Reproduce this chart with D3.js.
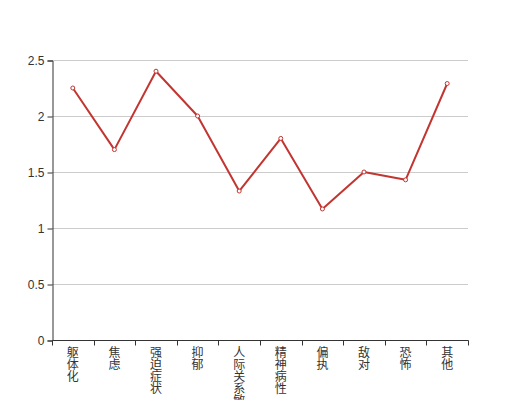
<!DOCTYPE html>
<html><head><meta charset="utf-8">
<script src="https://cdn.jsdelivr.net/npm/d3@7"></script>
<style>html,body{margin:0;padding:0;background:#fff;overflow:hidden}</style>
</head><body>
<svg id="chart" width="520" height="400"></svg>
<script>
const categories = ["躯体化","焦虑","强迫症状","抑郁","人际关系敏感","精神病性","偏执","敌对","恐怖","其他"];
const values = [2.25, 1.7, 2.4, 2.0, 1.33, 1.8, 1.17, 1.5, 1.43, 2.29];
const yTicks = [0, 0.5, 1, 1.5, 2, 2.5];

(function () {
const svg = d3.select("#chart");
const font = "'Noto Sans CJK SC', sans-serif";
const numFont = "'Liberation Sans', Arial, sans-serif";
const mLeft = 52, mRight = 468, mTop = 60, mBottom = 340;

const x = d3.scaleBand().domain(categories).range([mLeft, mRight]);
const y = d3.scaleLinear().domain([0, 2.5]).range([mBottom, mTop]);

// grid
svg.append("g").selectAll("line").data(yTicks.filter(d => d > 0)).join("line")
  .attr("x1", mLeft).attr("x2", mRight)
  .attr("y1", d => Math.round(y(d)) + 0.5).attr("y2", d => Math.round(y(d)) + 0.5)
  .attr("stroke", "#ccc").attr("stroke-width", 1);

// y axis
const ya = svg.append("g").attr("transform", `translate(${mLeft + 0.5},0.5)`)
  .call(d3.axisLeft(y).tickValues(yTicks).tickSize(5).tickPadding(3).tickFormat(d => d));
ya.select(".domain").attr("stroke", "#333");
ya.selectAll(".tick line").attr("stroke", "#333");
ya.selectAll(".tick text").attr("fill", "#333").style("font-size", "12px").style("font-family", numFont);

// x axis
const xa = svg.append("g").attr("transform", `translate(0.5,${mBottom + 0.5})`);
xa.append("line").attr("x1", mLeft).attr("x2", mRight).attr("stroke", "#333");
const bounds = categories.map(c => x(c)).concat([mRight]);
xa.selectAll("line.t").data(bounds).join("line").attr("class", "t")
  .attr("x1", d => Math.round(d)).attr("x2", d => Math.round(d))
  .attr("y1", 0).attr("y2", 5).attr("stroke", "#333");

const labels = svg.append("g");
categories.forEach(c => {
  const t = labels.append("text")
    .attr("x", x(c) + x.bandwidth() / 2)
    .attr("y", mBottom + 6)
    .attr("text-anchor", "middle")
    .attr("fill", "#333")
    .style("font-size", "12px").style("font-family", font);
  Array.from(c).forEach((ch, i) => {
    t.append("tspan").attr("x", x(c) + x.bandwidth() / 2)
      .attr("dy", i === 0 ? "0.9em" : 12).text(ch);
  });
});

// line
const line = d3.line().x((d, i) => x(categories[i]) + x.bandwidth() / 2).y(d => y(d));
svg.append("path").datum(values).attr("d", line)
  .attr("fill", "none").attr("stroke", "#c23531").attr("stroke-width", 2)
  .attr("stroke-linejoin", "bevel");

svg.append("g").selectAll("circle").data(values).join("circle")
  .attr("cx", (d, i) => x(categories[i]) + x.bandwidth() / 2)
  .attr("cy", d => y(d))
  .attr("r", 2)
  .attr("fill", "#fff").attr("stroke", "#c23531").attr("stroke-width", 1);
})();
</script>
</body></html>
